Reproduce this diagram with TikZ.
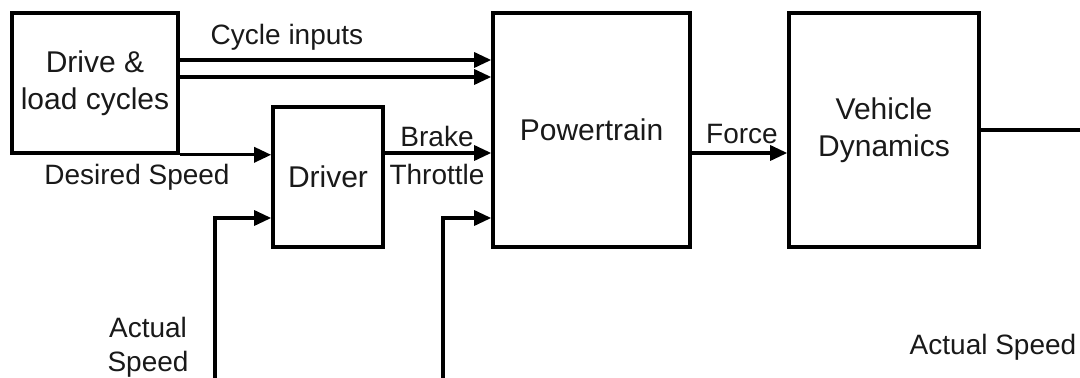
\documentclass[tikz,border=0pt]{standalone}
\usepackage{fontspec}
\setmainfont{Liberation Sans}
\usetikzlibrary{arrows.meta,calc}
\begin{document}
\begin{tikzpicture}[x=0.5pt,y=-0.5pt,
  block/.style={draw=black, line width=1.8pt, rectangle, inner sep=0pt, align=center,
    font=\fontsize{15}{18.5}\selectfont, text=black!90},
  lbl/.style={inner sep=0pt, anchor=base, font=\fontsize{14}{16.5}\selectfont, text=black!90},
  arr/.style={line width=1.6pt, -{Triangle[length=8.5pt,width=7.5pt]}},
  wire/.style={line width=1.6pt}
]
\useasboundingbox (0,0) rectangle (1080,378);
% blocks
\node[block, minimum width=83pt, minimum height=70pt] (drive) at (95,83) {Drive \&\\load cycles};
\node[block, minimum width=55pt, minimum height=70pt] (driver) at (328,177) {Driver};
\node[block, minimum width=98.5pt, minimum height=117pt] (pt) at (591.5,130) {Powertrain};
\node[block, minimum width=95pt, minimum height=117pt] (vd) at (884,130) {Vehicle\\Dynamics};
% free ends
\coordinate (fb1) at (215,378);
\coordinate (fb2) at (443,378);
\coordinate (out) at (1080,130);
% connectors
\draw[arr] ([yshift=11.5pt]drive.east) -- ([yshift=11.5pt]drive.east -| pt.west);
\draw[arr] ([yshift=3pt]drive.east) -- ([yshift=3pt]drive.east -| pt.west);
\draw[arr] (drive.south east) -- (drive.south east -| driver.west);
\draw[arr] ([yshift=12pt]driver.east) -- ([yshift=12pt]driver.east -| pt.west);
\draw[arr] (fb1) |- ([yshift=-20.5pt]driver.west);
\draw[arr] (fb2) |- ([yshift=-44pt]pt.west);
\draw[arr] ([yshift=-11.5pt]pt.east) -- ([yshift=-11.5pt]pt.east -| vd.west);
\draw[wire] (vd.east) -- (out);
% labels
\node[lbl] (lcyc) at (287,45) {Cycle inputs};
\node[lbl] (ldes) at (137,185) {Desired Speed};
\node[lbl] (lbrk) at (437,147) {Brake};
\node[lbl] (lthr) at (437,185) {Throttle};
\node[lbl] (lfor) at (742,144) {Force};
\node[lbl] (lact1) at (148,338) {Actual};
\node[lbl] (lact2) at (148,372) {Speed};
\node[lbl] (lact3) at (993,355) {Actual Speed};
\end{tikzpicture}
\end{document}
